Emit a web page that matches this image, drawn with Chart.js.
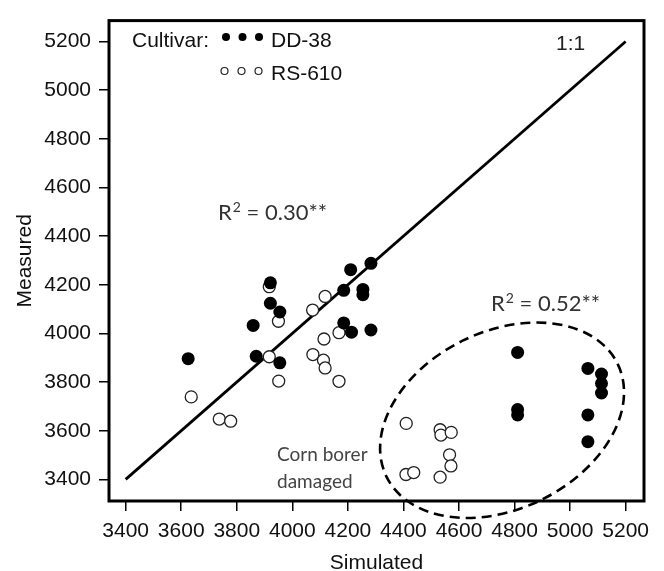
<!DOCTYPE html>
<html>
<head>
<meta charset="utf-8">
<script src="https://cdn.jsdelivr.net/npm/chart.js@4.4.1/dist/chart.umd.min.js"></script>
<style>
  html, body { margin: 0; padding: 0; background: #fff; }
</style>
</head>
<body>
<canvas id="yieldChart" width="664" height="571"></canvas>
<script>
// tick labels
const xTicks = [3400, 3600, 3800, 4000, 4200, 4400, 4600, 4800, 5000, 5200];
const yTicks = [3400, 3600, 3800, 4000, 4200, 4400, 4600, 4800, 5000, 5200];

// DD-38 (filled)
const dd38Simulated = [3625, 3859, 3870, 3921, 3921, 3955, 3955, 4185, 4185, 4210, 4213, 4254, 4254, 4283, 4283,
  4811, 4811, 4811, 5064, 5064, 5064, 5113, 5113, 5113];
const dd38Measured = [3896, 4033, 3906, 4208, 4124, 4088, 3879, 4177, 4043, 4262, 4005, 4181, 4159, 4288, 4014,
  3922, 3687, 3665, 3856, 3665, 3555, 3833, 3794, 3755];

// RS-610 (open)
const rs610Simulated = [3636, 3737, 3778, 3917, 3917, 3950, 3951, 4073, 4074, 4118, 4114, 4112, 4118, 4168, 4168,
  4410, 4409, 4437, 4532, 4535, 4572, 4566, 4571, 4532];
const rs610Measured = [3739, 3648, 3639, 4192, 3904, 4050, 3804, 4096, 3913, 4152, 3977, 3890, 3858, 4003, 3803,
  3630, 3420, 3428, 3604, 3582, 3593, 3501, 3455, 3409];

// 1:1 line
const oneToOne = [3400, 5200];

// dashed "corn borer damaged" ellipse (data units)
const ellipseCenter = [4755, 3643];
const ellipseHalf = [463, 365];
const ellipseTilt = -26; // degrees

const toPoints = (xs, ys) => xs.map((x, i) => ({ x, y: ys[i] }));
const fixTicks = (list) => (axis) => { axis.ticks = list.map((v) => ({ value: v })); };

const ARIAL = "'Liberation Sans', Arial, sans-serif";
const CALIBRI = "Lato, 'Open Sans', sans-serif";

function drawR2(ctx, x, y, rest) {
  ctx.font = `22px ${CALIBRI}`;
  ctx.fillText("R", x, y);
  let w = ctx.measureText("R").width;
  ctx.font = `14px ${CALIBRI}`;
  ctx.fillText("2", x + w + 1, y - 8);
  w += ctx.measureText("2").width + 1;
  ctx.font = `22px ${CALIBRI}`;
  ctx.fillText(rest, x + w, y);
}

/* ===========================
   FRAME, NOTES, LEGEND
=========================== */

const notesPlugin = {
  id: "notes",
  afterDraw(chart) {
    const { ctx, chartArea: a, scales } = chart;
    const sx = scales.x, sy = scales.y;
    ctx.save();

    // frame
    ctx.strokeStyle = "#000";
    ctx.lineWidth = 3;
    ctx.strokeRect(a.left, a.top, a.right - a.left, a.bottom - a.top);

    // ellipse
    const cx = sx.getPixelForValue(ellipseCenter[0]);
    const cy = sy.getPixelForValue(ellipseCenter[1]);
    const rx = sx.getPixelForValue(ellipseCenter[0] + ellipseHalf[0]) - cx;
    const ry = cy - sy.getPixelForValue(ellipseCenter[1] + ellipseHalf[1]);
    ctx.beginPath();
    ctx.setLineDash([10, 6]);
    ctx.lineWidth = 2.6;
    ctx.ellipse(cx, cy, rx, ry, ellipseTilt * Math.PI / 180, 0, Math.PI * 2);
    ctx.stroke();
    ctx.setLineDash([]);

    // legend
    ctx.fillStyle = "#111";
    ctx.font = `21px ${ARIAL}`;
    ctx.textBaseline = "alphabetic";
    ctx.textAlign = "left";
    ctx.fillText("Cultivar:", 132, 47);
    ctx.fillText("DD-38", 271, 47);
    ctx.fillText("RS-610", 271, 80);
    [226, 242.5, 259].forEach((x) => {
      ctx.beginPath();
      ctx.arc(x, 37, 4, 0, Math.PI * 2);
      ctx.fillStyle = "#000";
      ctx.fill();
    });
    [224.5, 241.5, 258.5].forEach((x) => {
      ctx.beginPath();
      ctx.arc(x, 71, 3.5, 0, Math.PI * 2);
      ctx.fillStyle = "#fff";
      ctx.fill();
      ctx.lineWidth = 1.2;
      ctx.strokeStyle = "#222";
      ctx.stroke();
    });

    // 1:1 label
    ctx.fillStyle = "#222";
    ctx.font = `21px ${ARIAL}`;
    ctx.fillText("1:1", 556, 50);

    // R² notes
    ctx.fillStyle = "#333";
    drawR2(ctx, 218, 220, " = 0.30**");
    drawR2(ctx, 491, 311, " = 0.52**");

    ctx.fillStyle = "#444";
    ctx.font = `19px ${CALIBRI}`;
    ctx.fillText("Corn borer", 277, 461);
    ctx.fillText("damaged", 277, 488);

    ctx.restore();
  }
};

/* ===========================
   CHART
=========================== */

new Chart(document.getElementById("yieldChart"), {
  type: "scatter",
  data: {
    datasets: [
      {
        label: "DD-38",
        data: toPoints(dd38Simulated, dd38Measured),
        backgroundColor: "#000",
        borderColor: "#000",
        pointRadius: 6.5,
        borderWidth: 0,
        order: 1
      },
      {
        label: "RS-610",
        data: toPoints(rs610Simulated, rs610Measured),
        backgroundColor: "#fff",
        borderColor: "#222",
        pointRadius: 6,
        borderWidth: 1.3,
        order: 2
      },
      {
        label: "1:1",
        data: toPoints(oneToOne, oneToOne),
        showLine: true,
        borderColor: "#000",
        borderWidth: 2.8,
        pointRadius: 0,
        order: 3
      }
    ]
  },
  options: {
    responsive: false,
    devicePixelRatio: 1,
    animation: false,
    layout: { padding: { left: 0, top: 11, right: 20, bottom: 0 } },
    plugins: { legend: { display: false }, tooltip: { enabled: false } },
    scales: {
      x: {
        type: "linear",
        min: 3340,
        max: 5266,
        afterBuildTicks: fixTicks(xTicks),
        afterFit: (s) => { s.height = 70; },
        border: { display: false },
        grid: { drawOnChartArea: false, drawTicks: true, tickLength: 10, color: "#000", lineWidth: 1.5 },
        ticks: { color: "#111", font: { family: ARIAL, size: 21 }, padding: 8, maxRotation: 0, autoSkip: false,
          callback: (v) => String(v) },
        title: { display: true, text: "Simulated", color: "#111", font: { family: ARIAL, size: 21, lineHeight: 0.75 }, padding: 0 }
      },
      y: {
        type: "linear",
        min: 3311,
        max: 5286,
        afterBuildTicks: fixTicks(yTicks),
        afterFit: (s) => { s.width = 109; },
        border: { display: false },
        grid: { drawOnChartArea: false, drawTicks: true, tickLength: 10, color: "#000", lineWidth: 1.5 },
        ticks: { color: "#111", font: { family: ARIAL, size: 21 }, padding: 8, autoSkip: false,
          callback: (v) => String(v) },
        title: { display: true, text: "Measured", color: "#111", font: { family: ARIAL, size: 21, lineHeight: 1.2 }, padding: { top: 13, bottom: 0 } }
      }
    }
  },
  plugins: [notesPlugin]
});
</script>
</body>
</html>
